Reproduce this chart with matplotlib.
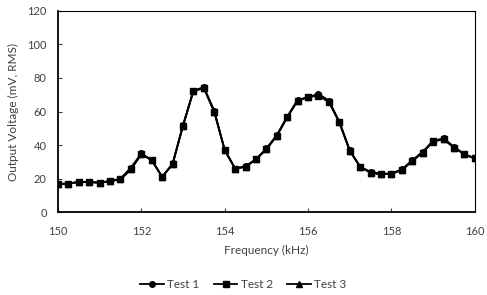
import matplotlib
matplotlib.use("Agg")
import matplotlib.pyplot as plt
import numpy as np

freq = [150 + 0.25 * i for i in range(41)]
test1 = [17, 17, 18, 18, 17.5, 18.5, 20, 26.5, 35, 31, 21, 29, 52, 72.5, 74.5, 60.5, 37, 26, 27.5, 31.5,
         38, 46, 57, 67, 68.5, 70.5, 66.5, 54, 37, 27, 24, 23, 23, 25.5, 31, 36, 42.5, 44, 39, 34.5, 32]
test2 = [16.5, 17, 18, 18, 17.5, 18.5, 19.5, 25.5, 34.5, 31, 21, 28.5, 51.5, 72.5, 74, 59.5, 37, 26, 27, 31.5,
         37.5, 45.5, 56.5, 66.5, 68.5, 69.5, 65.5, 53.5, 36.5, 27, 23.5, 22.5, 23, 25, 30.5, 35.5, 42.5, 43.5, 38.5, 34.5, 32]
test3 = [16.5, 17, 18, 18, 17.5, 18.5, 19.5, 25.5, 34.5, 31, 21, 28.5, 51.5, 72, 74, 60, 37, 26, 27, 31.5,
         37.5, 45.5, 56.5, 66.5, 68.5, 70, 66, 53.5, 36.5, 27, 23.5, 22.5, 23, 25, 30.5, 35.5, 42, 43.5, 38.5, 34.5, 32]

plt.rcParams['font.family'] = ['Lato', 'DejaVu Sans']
fig = plt.figure(figsize=(4.87, 2.95), dpi=100)
ax = fig.add_axes([0.119, 0.281, 0.856, 0.682])

ax.plot(freq, test1, color='black', lw=1.3, marker='o', ms=4, label='Test 1')
ax.plot(freq, test2, color='black', lw=1.3, marker='s', ms=4, label='Test 2')
ax.plot(freq, test3, color='black', lw=1.3, marker='^', ms=4, label='Test 3')

ax.set_xlim(150, 160)
ax.set_ylim(0, 120)
ax.set_xticks(np.arange(150, 161, 2))
ax.set_yticks(np.arange(0, 121, 20))
ax.tick_params(direction='in', length=3, labelsize=8, colors='#404040', width=0.8)
ax.tick_params(axis='x', pad=10)
ax.tick_params(axis='y', pad=8)
for s in ax.spines.values():
    s.set_color('black')
    s.set_linewidth(0.8)
ax.spines['left'].set_linewidth(1.3)
ax.spines['bottom'].set_linewidth(1.3)
ax.set_xlabel('Frequency (kHz)', fontsize=8.5, color='#404040', labelpad=6)
ax.set_ylabel('Output Voltage (mV, RMS)', fontsize=8.5, color='#404040', labelpad=6)

leg = fig.legend(loc='center', bbox_to_anchor=(0.5, 0.035), ncol=3, frameon=False,
                 fontsize=8.5, handlelength=2.0, columnspacing=1.2, handletextpad=0.3)
for t in leg.get_texts():
    t.set_color('#404040')

fig.savefig('out.png', dpi=100)
